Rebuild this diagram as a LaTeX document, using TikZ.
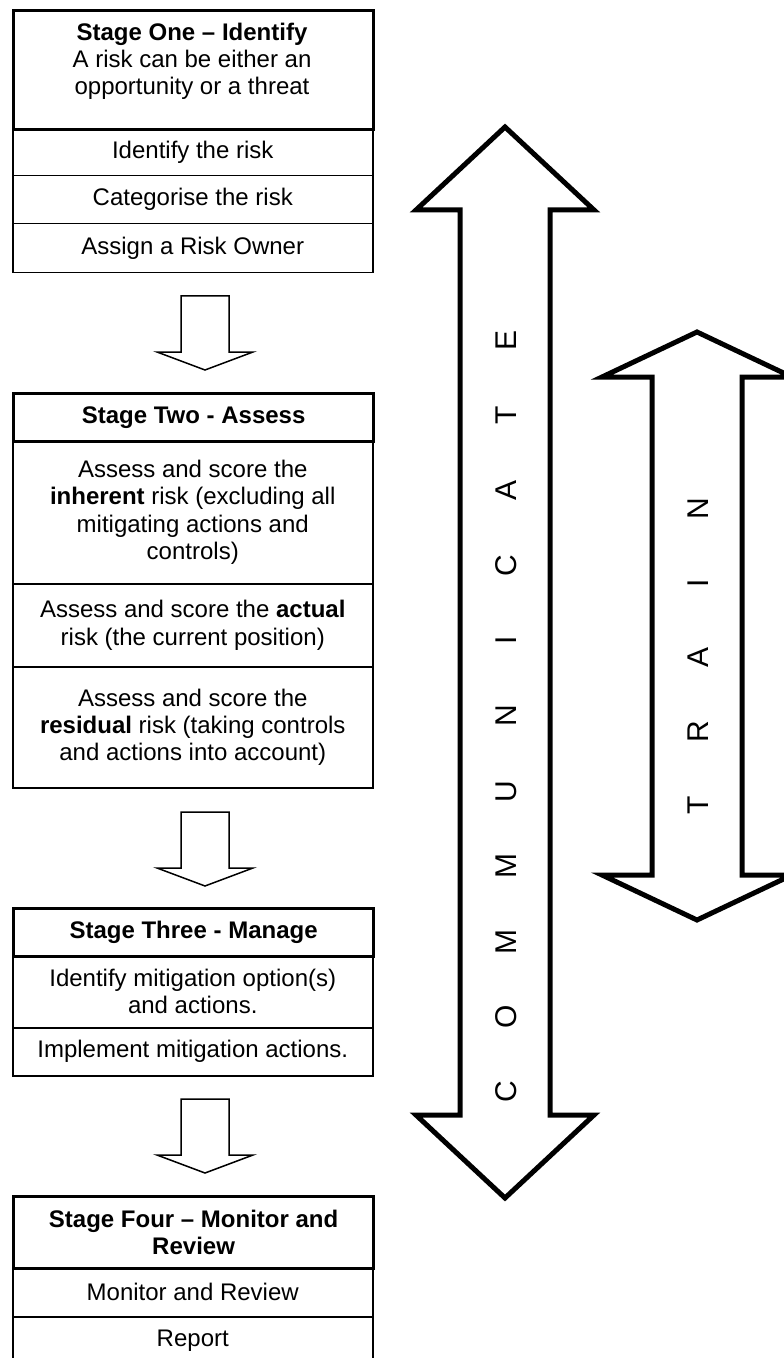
\documentclass[tikz,border=0pt]{standalone}
\usepackage{fontspec}
\setmainfont{Liberation Sans}
\begin{document}
\begin{tikzpicture}[x=0.5pt,y=-0.5pt,
  rowbox/.style={draw, line width=0.75pt, minimum width=180pt, align=center, inner sep=0pt, anchor=north west, font=\fontsize{12}{13.6}\selectfont},
  hdrbox/.style={rowbox, line width=1.6pt, font=\fontsize{12}{13.6}\selectfont\bfseries},
  plaintext/.style={align=center, inner sep=0pt, font=\fontsize{12}{13.6}\selectfont},
  blockarrow/.style={draw, line width=0.75pt, line join=miter, fill=white},
  bigarrow/.style={draw, line width=2.5pt, line join=miter, fill=white},
  bigletter/.style={rotate=90, inner sep=0pt, font=\fontsize{15}{15}\selectfont}
]
\useasboundingbox (0,0) rectangle (783,1358);
\fill[white] (0,0) rectangle (783,1358);

% ---- Stage One ----
\node[rowbox, minimum height=23.5pt] (s1a) at (12,128) {Identify the risk};
\node[rowbox, minimum height=24pt] (s1b) at (12,175) {Categorise the risk};
\node[rowbox, minimum height=24.5pt] (s1c) at (12,223) {Assign a Risk Owner};
\node[hdrbox, minimum height=59.5pt] (s1) at (12,9) {};
\node[plaintext] (s1t) at (192,61) {\textbf{Stage One – Identify}\\A risk can be either an\\opportunity or a threat};

% ---- Stage Two ----
\node[rowbox, minimum height=71.5pt] (s2a) at (12,440) {Assess and score the\\\textbf{inherent} risk (excluding all\\mitigating actions and\\controls)};
\node[rowbox, minimum height=41.5pt] (s2b) at (12,583) {Assess and score the \textbf{actual}\\risk (the current position)};
\node[rowbox, minimum height=60.5pt] (s2c) at (12,666) {Assess and score the\\\textbf{residual} risk (taking controls\\and actions into account)};
\node[hdrbox, minimum height=24pt] (s2) at (12,392) {Stage Two - Assess};

% ---- Stage Three ----
\node[rowbox, minimum height=36pt] (s3a) at (12,955) {Identify mitigation option(s)\\and actions.};
\node[rowbox, minimum height=24pt] (s3b) at (12,1027) {Implement mitigation actions.};
\node[hdrbox, minimum height=24pt] (s3) at (12,907) {Stage Three - Manage};

% ---- Stage Four ----
\node[rowbox, minimum height=24.5pt] (s4a) at (12,1267) {Monitor and Review};
\node[rowbox, minimum height=24pt] (s4b) at (12,1316) {Report};
\node[hdrbox, minimum height=36pt] (s4) at (12,1195) {Stage Four – Monitor and\\Review};

% ---- down block arrows ----
\foreach \t in {296,812,1099}{
  \draw[blockarrow] (181,\t) -- (229,\t) -- (229,\t+56) -- (253,\t+56) -- (205,\t+74) -- (157,\t+56) -- (181,\t+56) -- cycle;
}

% ---- COMMUNICATE arrow ----
\draw[bigarrow] (505,127) -- (594,210) -- (550,210) -- (550,1115) -- (594,1115) -- (505,1198) -- (416,1115) -- (460,1115) -- (460,210) -- (416,210) -- cycle;
\foreach \l [count=\i from 0] in {E,T,A,C,I,N,U,M,M,O,C}{
  \node[bigletter] (c\i) at (506,340+75.2*\i) {\l};
}

% ---- TRAIN arrow ----
\draw[bigarrow] (697,332) -- (792,377) -- (742,377) -- (742,875) -- (792,875) -- (697,920) -- (602,875) -- (652,875) -- (652,377) -- (602,377) -- cycle;
\foreach \l [count=\i from 0] in {N,I,A,R,T}{
  \node[bigletter] (t\i) at (698,509+74.2*\i) {\l};
}
\end{tikzpicture}
\end{document}
